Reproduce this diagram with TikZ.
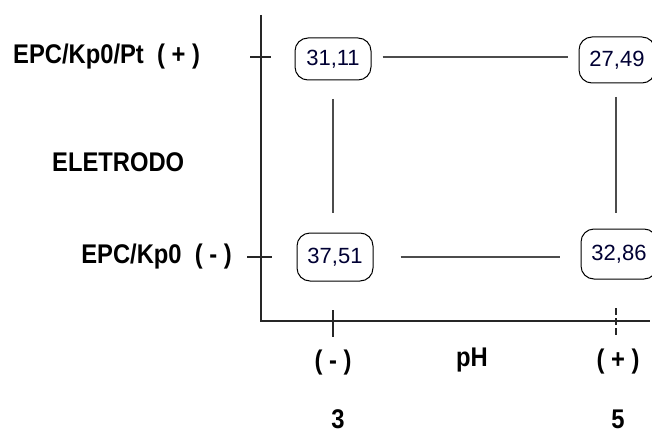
\documentclass[tikz,border=0pt]{standalone}
\usepackage{fontspec}
\setmainfont{Liberation Sans}
\newfontfamily\lblfont[FakeStretch=0.88]{Liberation Sans}
\begin{document}
\begin{tikzpicture}[x=1pt,y=-1pt,
  axisline/.style={line width=1.8pt,draw=black!85},
  link/.style={line width=2pt,draw=black!70},
  tick/.style={line width=1.6pt,draw=black!85},
  valbox/.style={draw=black,line width=1pt,rounded corners=13pt,
    minimum width=76pt,inner sep=0pt,
    font=\fontsize{22}{22}\selectfont,text=black!80!blue},
  lbl/.style={inner sep=0pt,font=\lblfont\bfseries\fontsize{27}{27}\selectfont}]
\useasboundingbox (0,0) rectangle (652,433);

% axes
\coordinate (top) at (261,15);
\coordinate (orig) at (261,321);
\coordinate (xend) at (650,321);
\draw[axisline] (top) -- (orig) -- (xend);

% ticks
\coordinate (ta1) at (250,57);  \coordinate (ta2) at (271,57);
\coordinate (tb1) at (247,257); \coordinate (tb2) at (272,257);
\coordinate (tc1) at (333,310); \coordinate (tc2) at (333,337);
\coordinate (td1) at (616,308); \coordinate (td2) at (616,337);
\draw[tick] (ta1) -- (ta2);
\draw[tick] (tb1) -- (tb2);
\draw[tick] (tc1) -- (tc2);
\draw[tick,dash pattern=on 7pt off 3pt] (td1) -- (td2);

% values
\node[valbox,minimum height=42pt] (v1) at (333,59) {31,11};
\node[valbox,minimum height=46pt] (v2) at (617,60) {27,49};
\node[valbox,minimum height=48pt] (v3) at (335,257) {37,51};
\node[valbox,minimum height=50pt] (v4) at (619,254) {32,86};

% connectors between values
\draw[link] ([xshift=11pt]v1.east |- 0,57) -- ([xshift=-11pt]v2.west |- 0,57);
\draw[link] ([xshift=27pt]v3.east |- 0,257) -- ([xshift=-21pt]v4.west |- 0,257);
\draw[link] (333,99) -- (333,213);
\draw[link] (616,97) -- (616,213);

% labels
\node[lbl,anchor=west] (e1) at (13,57) {EPC/Kp0/Pt\ \ ( + )};
\node[lbl,anchor=west] (el) at (52,162) {ELETRODO};
\node[lbl,anchor=east] (e2) at (232,257) {EPC/Kp0\ \ ( - )};
\node[lbl] (pm) at (333,363) {( - )};
\node[lbl] (ph) at (472,360) {pH};
\node[lbl] (pp) at (618,362) {( + )};
\node[lbl] (n3) at (338,419) {3};
\node[lbl] (n5) at (618,419) {5};
\end{tikzpicture}
\end{document}
